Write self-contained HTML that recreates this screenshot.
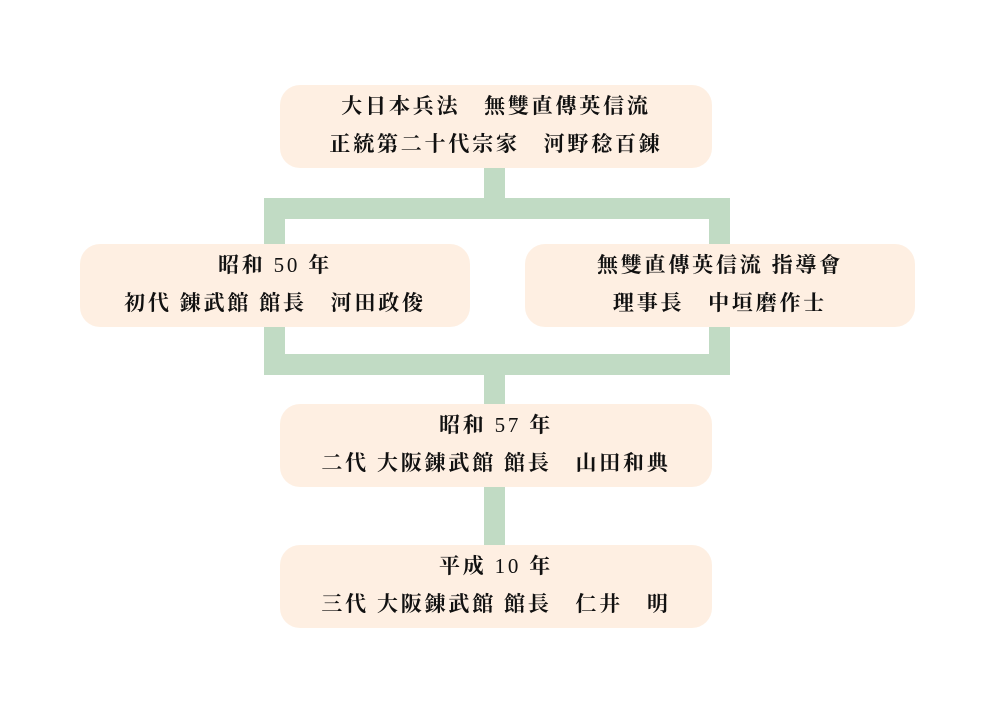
<!DOCTYPE html>
<html><head><meta charset="utf-8"><style>
html,body{margin:0;padding:0;background:#fff;}
body{width:1000px;height:713px;position:relative;overflow:hidden;font-family:"Liberation Serif","Noto Serif CJK JP","Noto Serif CJK SC",serif;}
.g{position:absolute;background:#c1dbc4;}
.b{position:absolute;background:#feefe2;border-radius:20px;display:flex;flex-direction:column;align-items:center;justify-content:center;font-size:21px;letter-spacing:2.8px;line-height:38px;color:#111;font-weight:700;white-space:pre;padding-bottom:3px;box-sizing:border-box;}
.b span{font-weight:400;}
</style></head><body>
<div class="g" style="left:484px;top:165px;width:21px;height:36px"></div>
<div class="g" style="left:264px;top:198px;width:466px;height:21px"></div>
<div class="g" style="left:264px;top:198px;width:21px;height:177px"></div>
<div class="g" style="left:709px;top:198px;width:21px;height:177px"></div>
<div class="g" style="left:264px;top:354px;width:466px;height:21px"></div>
<div class="g" style="left:484px;top:354px;width:21px;height:200px"></div>
<div class="b" style="left:280px;top:85px;width:432px;height:83px"><div>大日本兵法　無雙直傳英信流</div><div>正統第二十代宗家　河野稔百錬</div></div>
<div class="b" style="left:80px;top:244px;width:390px;height:83px"><div>昭和 <span>50</span> 年</div><div>初代 錬武館 館長　河田政俊</div></div>
<div class="b" style="left:525px;top:244px;width:390px;height:83px"><div>無雙直傳英信流 指導會</div><div>理事長　中垣磨作士</div></div>
<div class="b" style="left:280px;top:404px;width:432px;height:83px"><div>昭和 <span>57</span> 年</div><div>二代 大阪錬武館 館長　山田和典</div></div>
<div class="b" style="left:280px;top:545px;width:432px;height:83px"><div>平成 <span>10</span> 年</div><div>三代 大阪錬武館 館長　仁井　明</div></div>
</body></html>
